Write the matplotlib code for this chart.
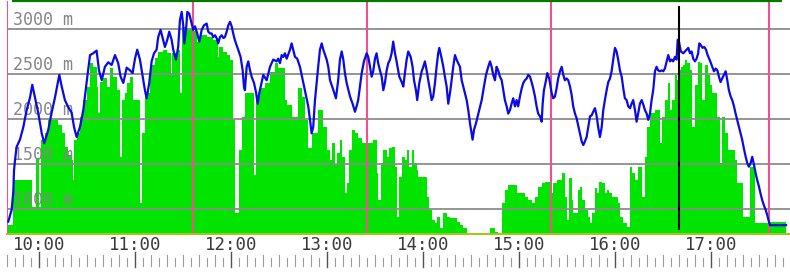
import numpy as np
import matplotlib
matplotlib.use("Agg")
import matplotlib.pyplot as plt
import matplotlib.transforms as mtransforms

# time is in minutes after 9:00, elevation in metres
blue_t = [
    40.8, 42.9, 43.9, 44.4, 45.0, 46.0, 48.1, 50.2, 52.3, 54.4,
    55.8, 57.5, 59.5, 61.7, 63.3, 65.8, 67.9, 70.0, 72.7, 74.2,
    76.2, 78.3, 80.4, 81.9, 83.5, 85.6, 87.7, 90.2, 91.9, 93.9,
    96.0, 97.5, 99.2, 101.2, 103.3, 105.4, 107.5, 109.5, 111.0, 112.7,
    114.8, 116.9, 118.5,
    120.0, 121.4, 123.1, 124.8, 126.2, 127.3, 128.9, 130.4, 131.9, 133.5,
    134.5, 136.0, 137.3, 138.7, 140.2, 141.4, 142.9, 143.9, 145.6, 147.0,
    148.1, 149.2, 150.2, 150.8, 151.9, 152.7, 153.9, 155.4, 156.4, 157.5,
    158.9, 160.2, 161.7, 163.1, 164.8, 165.8, 166.9, 167.9, 168.9, 170.0,
    171.0, 172.0, 173.1, 174.2, 175.2, 176.2, 177.3, 178.3, 179.4, 180.4,
    181.9, 183.1, 184.5, 186.0, 187.3, 188.1, 188.7, 189.8, 190.8, 191.9,
    192.9, 194.4, 195.6, 196.7, 197.7,
    200.2, 202.3, 204.4, 206.4, 208.5, 209.5, 210.6, 211.7, 212.7, 213.7,
    214.8, 216.9, 217.9, 218.9, 220.0, 221.4, 223.1, 225.2, 226.9, 228.3,
    229.4, 230.4, 231.4, 232.5, 233.5, 234.5, 235.6, 236.7, 237.7, 239.8,
    240.8, 241.9, 244.0, 245.6, 247.0, 248.1, 249.2, 250.2, 251.2, 252.3,
    254.4, 256.0, 257.5, 258.5, 259.5, 260.6, 261.7, 263.1, 264.8, 265.8,
    266.9, 267.9, 268.9, 270.0, 271.0, 272.0, 273.1, 274.2, 275.2, 276.2,
    277.3, 278.3, 279.4, 280.4, 281.4, 282.5,
    283.5, 285.2, 286.7, 287.7, 288.7, 289.8, 290.8, 292.3, 293.5, 294.4,
    295.6, 296.4, 297.7, 299.2, 300.2, 301.2, 302.3, 303.3, 304.4, 305.4,
    306.4, 307.5, 308.5, 309.5, 310.2, 311.7, 312.7, 313.7, 314.8, 315.8,
    316.9, 317.9, 318.9, 320.0, 321.0, 322.0, 323.1, 324.2, 325.2, 326.2,
    327.3, 328.3, 329.4, 330.4, 331.0, 331.9, 333.1, 334.2, 335.2, 336.7,
    338.1, 339.4, 340.8, 341.9, 342.9, 343.9, 345.0, 346.0, 347.0, 348.1,
    349.2, 350.2, 351.2, 352.3, 353.3, 354.4, 355.4, 356.4, 357.5, 358.5,
    359.5, 360.6, 361.7, 362.7, 363.7,
    364.8, 365.8, 366.9, 367.9, 368.9, 370.0, 371.0, 372.0, 373.1, 374.2,
    374.8, 375.6, 376.9, 377.7, 378.9, 380.4, 381.4, 382.5, 383.5, 384.5,
    385.6, 386.7, 387.7, 388.7, 389.8, 390.8, 391.9, 392.9, 393.9, 395.0,
    396.0, 397.0, 398.1, 399.2, 400.2, 401.2, 402.3, 403.3, 404.4, 405.4,
    406.4, 407.5, 408.5, 409.5, 410.6, 411.7, 412.7, 413.7, 414.8, 415.8,
    416.9, 417.9, 418.9, 420.0, 421.0, 422.0, 423.1, 424.2, 425.2, 426.2,
    427.3, 428.3, 429.4, 430.4, 431.4, 432.5, 433.5, 434.5, 435.6, 436.7,
    437.7, 438.7, 439.8, 440.8, 441.9, 442.9, 443.9, 445.0,
    446.0, 447.0, 448.1, 449.2, 450.2, 451.2, 452.3, 453.3, 454.4, 455.4,
    456.4, 457.5, 458.5, 459.2, 460.0, 461.2, 462.7, 463.7, 464.8, 465.8,
    466.9, 467.9, 468.9, 470.0, 471.0, 472.0, 472.7, 473.7, 474.8, 475.8,
    476.9, 477.9, 478.9, 480.0, 480.8, 481.9, 483.0, 484.0, 485.0, 486.0,
    487.0, 488.1, 489.2, 490.2, 491.2, 492.3, 493.3, 494.4, 495.4, 496.4,
    497.5, 498.5, 499.5, 500.6, 501.7, 502.7, 503.7, 504.8, 505.8, 506.9,
    507.9, 508.9, 510.0, 511.0, 512.0, 513.1, 514.2, 515.2, 516.2, 516.9,
    526.9,
]
blue_elev = [
    860, 990, 1180, 1430, 1540, 1690, 1770, 1910, 2100, 2240,
    2380, 2240, 2070, 1840, 1730, 1880, 2070, 2240, 2490, 2360,
    2210, 2130, 2070, 1910, 1800, 1910, 2100, 2470, 2710, 2730,
    2760, 2540, 2430, 2580, 2630, 2600, 2710, 2620, 2470, 2400,
    2570, 2540, 2510,
    2670, 2770, 2660, 2470, 2320, 2230, 2400, 2640, 2730, 2770,
    2910, 2990, 2900, 2800, 2880, 2970, 2880, 2770, 2660, 2800,
    3100, 3190, 3030, 2840, 2990, 3190, 3170, 3060, 2990, 3030,
    2950, 2860, 2990, 3040, 3060, 2970, 2950, 2950, 2910, 2930,
    2900, 2840, 2910, 2930, 2900, 2910, 2970, 3040, 3080, 3030,
    2910, 2840, 2770, 2690, 2540, 2360, 2320, 2580, 2640, 2540,
    2470, 2400, 2300, 2170, 2290,
    2490, 2430, 2580, 2660, 2640, 2670, 2620, 2710, 2690, 2730,
    2670, 2770, 2840, 2770, 2690, 2670, 2580, 2400, 2250, 2140,
    1990, 1840, 1910, 2210, 2400, 2580, 2770, 2840, 2770, 2660,
    2580, 2430, 2320, 2230, 2430, 2660, 2750, 2660, 2510, 2400,
    2250, 2170, 2080, 2140, 2210, 2360, 2510, 2640, 2730, 2690,
    2580, 2470, 2530, 2670, 2730, 2620, 2540, 2470, 2320, 2400,
    2540, 2620, 2660, 2730, 2860, 2730,
    2640, 2470, 2410, 2360, 2510, 2660, 2750, 2690, 2580, 2430,
    2320, 2210, 2400, 2530, 2580, 2640, 2540, 2430, 2320, 2210,
    2250, 2400, 2580, 2730, 2790, 2670, 2580, 2470, 2360, 2170,
    2290, 2430, 2580, 2710, 2660, 2620, 2580, 2430, 2360, 2290,
    2210, 2100, 1950, 1840, 1770, 1880, 1950, 2030, 2100, 2210,
    2360, 2490, 2580, 2640, 2580, 2490, 2430, 2580, 2540, 2470,
    2430, 2320, 2210, 2140, 2060, 2100, 2170, 2230, 2140, 2210,
    2140, 2250, 2340, 2400, 2430,
    2450, 2490, 2470, 2410, 2340, 2250, 2140, 2060, 2030, 1970,
    2170, 2320, 2430, 2510, 2450, 2290, 2230, 2250, 2340, 2450,
    2530, 2580, 2490, 2430, 2450, 2430, 2360, 2270, 2140, 2060,
    2010, 1930, 1840, 1750, 1710, 1750, 1800, 1910, 2030, 2040,
    2080, 2120, 2040, 1910, 1800, 1910, 2100, 2210, 2320, 2410,
    2450, 2530, 2660, 2790, 2750, 2660, 2540, 2470, 2340, 2230,
    2210, 2140, 2120, 2170, 2210, 2100, 1970, 2060, 2170, 2210,
    2160, 2100, 2060, 1990, 2060, 2210, 2320, 2530,
    2580, 2540, 2530, 2540, 2530, 2560, 2640, 2710, 2640, 2660,
    2640, 2690, 2660, 2880, 2860, 2750, 2730, 2750, 2770, 2790,
    2730, 2750, 2670, 2640, 2670, 2730, 2840, 2820, 2790, 2800,
    2770, 2710, 2670, 2620, 2580, 2530, 2560, 2540, 2470, 2410,
    2450, 2490, 2530, 2430, 2320, 2250, 2210, 2140, 2060, 1990,
    1910, 1840, 1770, 1670, 1580, 1510, 1470, 1510, 1580, 1490,
    1400, 1320, 1250, 1170, 1100, 1040, 990, 930, 860, 820,
    820,
]

green_t = [
    40.0, 40.9, 43.7, 55.4, 58.1, 60.0, 61.2, 63.7, 65.8, 72.0,
    74.2, 76.2, 78.3, 80.4, 81.0, 81.7, 83.5, 85.6, 87.7, 89.8,
    91.9, 93.9, 96.0, 97.0, 98.1, 100.2, 102.3, 104.4, 106.4, 108.5,
    110.6, 111.7, 113.7, 114.8, 116.9, 118.7, 123.1, 124.5, 126.2, 129.4,
    132.5, 134.4, 137.5, 140.0, 142.5, 143.1, 146.2, 148.1, 149.2, 152.5,
    156.2, 158.7, 160.6, 165.0, 168.7, 171.9, 172.5, 175.0, 177.5, 179.4,
    181.2, 182.5, 185.2, 186.9, 188.7, 194.4, 195.6, 198.1, 201.2, 204.4,
    207.5, 209.4, 213.7, 215.0, 218.1, 221.9, 224.4, 226.2, 228.1, 230.6,
    234.4, 237.5, 240.0, 241.9, 243.1, 245.0, 246.2, 248.1, 249.4, 251.2,
    252.5, 253.7, 255.6, 257.5, 259.4, 261.9, 268.7, 271.2, 271.9, 273.7,
    275.0, 277.5, 278.7, 280.6, 282.5, 283.7, 285.0, 286.9, 288.7, 290.0,
    291.2, 293.1, 294.4, 296.2, 296.9, 302.5, 303.7, 305.6, 307.5, 308.7,
    310.6, 312.5, 315.0, 316.9, 321.2, 323.1, 325.0, 327.5, 341.9, 345.0,
    346.9, 349.4, 351.2, 353.1, 358.7, 363.7, 365.6, 368.1, 370.0, 371.9,
    374.4, 376.2, 379.4, 381.2, 383.7, 386.9, 388.7, 390.0, 391.2, 393.1,
    393.7, 396.9, 398.1, 399.4, 401.2, 403.1, 404.4, 405.6, 407.5, 408.7,
    410.0, 411.9, 413.7, 415.0, 416.2, 418.1, 421.9, 423.1, 425.0, 427.5,
    429.4, 430.6, 432.5, 434.4, 436.9, 438.7, 440.0, 441.9, 445.0, 448.1,
    449.4, 451.2, 453.1, 454.4, 455.6, 457.5, 458.7, 459.4, 461.2, 462.5,
    463.7, 465.0, 466.9, 468.1, 470.0, 471.9, 473.1, 474.4, 476.2, 478.1,
    479.4, 480.6, 483.7, 485.6, 486.9, 488.7, 490.6, 495.0, 496.2, 500.0,
    504.4, 507.5, 516.9, 526.9,
]
green_val = [
    770, 820, 1320, 1020, 1570, 1020, 1770, 1840, 1990, 1930,
    1840, 1690, 1600, 1540, 1320, 1770, 1840, 2020, 2210, 2360,
    2620, 2580, 2360, 2070, 2410, 2460, 2360, 2570, 2470, 2320,
    1580, 2210, 2290, 2400, 2470, 2210, 1070, 1840, 2290, 2600,
    2680, 2740, 2770, 2730, 2490, 2730, 2770, 2290, 3020, 3010,
    2980, 2860, 2930, 2910, 2880, 2690, 2800, 2740, 2710, 2660,
    1990, 960, 1660, 2020, 2290, 1380, 2270, 2340, 2400, 2520,
    2620, 2570, 2210, 2160, 2020, 2340, 2240, 1990, 1680, 1840,
    2100, 1910, 1660, 1540, 1730, 1490, 1620, 1770, 1580, 1180,
    1290, 1660, 1880, 1840, 1790, 1730, 1770, 1400, 1100, 1510,
    1660, 1580, 1680, 1690, 1470, 910, 1360, 1580, 1540, 1660,
    1470, 1660, 1510, 1430, 1360, 1130, 990, 880, 840, 910,
    790, 960, 910, 900, 860, 820, 790, 720, 790, 740,
    720, 1070, 1210, 1270, 1180, 1130, 1100, 1070, 1130, 1240,
    1290, 1300, 1180, 1290, 1320, 1400, 1130, 880, 1340, 1100,
    960, 1210, 1240, 1100, 990, 910, 840, 960, 1230, 1180,
    1300, 1290, 1180, 1210, 1180, 1130, 1070, 910, 840, 800,
    1470, 1400, 1320, 1470, 1130, 1580, 1910, 2070, 2100, 1730,
    2020, 2210, 2400, 2100, 2210, 2490, 2430, 2540, 2580, 2600,
    2660, 2620, 2540, 1910, 2380, 2630, 2620, 2210, 2600, 2490,
    2380, 2290, 2020, 1510, 2020, 1840, 1660, 1540, 1290, 910,
    1470, 840, 860, 860,
]

marker_t = [40.0, 156.2, 265.0, 380.0, 516.2]   # pink lines
cursor_t = 460.0                                # black line
elev_levels = [1000, 1500, 2000, 2500, 3000]
hour_ticks = [60, 120, 180, 240, 300, 360, 420, 480]
hour_labels = ['10:00', '11:00', '12:00', '13:00', '14:00', '15:00', '16:00', '17:00']

y_min, y_max = 722, 3322
x_min, x_max = 40.0, 529.4

fig = plt.figure(figsize=(7.9, 2.74), dpi=100)
ax = fig.add_axes([7 / 790, 40 / 274, 783 / 790, 234 / 274])
ax.set_xlim(x_min, x_max)
ax.set_ylim(y_min, y_max)

ax.fill_between(green_t, green_val, y_min, step='post', color='#00e400', lw=0, zorder=1)

for lev in elev_levels:
    ax.axhline(lev, color='#8c8c8c', lw=1.3, zorder=2)

lab_tr = mtransforms.blended_transform_factory(ax.transAxes, ax.transData)
for lev in elev_levels:
    ax.text(0.0075, lev, f'{lev} m', transform=lab_tr, ha='left', va='bottom',
            family='DejaVu Sans Mono', fontsize=12, color='#858585', zorder=3)

for t in marker_t:
    ax.axvline(t, ymin=0.0085, ymax=0.991, color='#f0508c', lw=1.5, zorder=3.5)

ax.plot(blue_t, blue_elev, color='#0a0ae6', lw=1.6, zorder=4)

ax.axvline(cursor_t, ymin=0.021, ymax=0.970, color='black', lw=1.5, zorder=5)

# dark green border along the top
ax.plot([0.0064, 0.9898], [0.996, 0.996], transform=ax.transAxes, color='#007a00',
        lw=1.6, clip_on=False, solid_capstyle='butt', zorder=6)

for side in ['top', 'left', 'right']:
    ax.spines[side].set_visible(False)
ax.spines['bottom'].set_color('#a0c814')
ax.spines['bottom'].set_linewidth(1.5)
ax.spines['bottom'].set_zorder(6)

ax.set_yticks([])
ax.set_xticks(hour_ticks)
ax.set_xticklabels(hour_labels, family='DejaVu Sans Mono', fontsize=12.5, color='#3a3a3a')
ax.tick_params(axis='x', length=0, pad=1.5)

# the little time ruler under the labels, one tick every 5 minutes
xtr = ax.get_xaxis_transform()
ruler = np.arange(40, 530, 5)
for m in ruler:
    if m % 60 == 0:
        ax.plot([m, m], [-0.077, -0.141], transform=xtr, color='#505050', lw=1.0, clip_on=False)
    elif m % 10 == 0:
        ax.plot([m, m], [-0.090, -0.137], transform=xtr, color='#9a9a9a', lw=0.8, clip_on=False)
    else:
        ax.plot([m, m], [-0.103, -0.137], transform=xtr, color='#9a9a9a', lw=0.8, clip_on=False)

fig.savefig('out.png', dpi=100)
